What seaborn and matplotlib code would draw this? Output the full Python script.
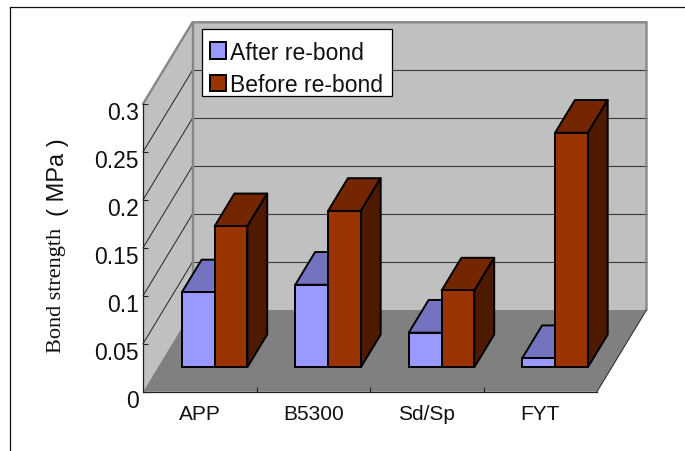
import matplotlib
matplotlib.use("Agg")
import matplotlib.pyplot as plt
import pandas as pd
import seaborn as sns
from matplotlib.lines import Line2D
from matplotlib.patches import Patch, Polygon, Rectangle
from matplotlib.transforms import ScaledTranslation

# Bond strength (MPa) per material
categories = ["APP", "B5300", "Sd/Sp", "FYT"]
after_rebond = [0.078, 0.086, 0.036, 0.0095]
before_rebond = [0.147, 0.163, 0.080, 0.2445]
series_names = ["After re-bond", "Before re-bond"]
y_ticks = [0, 0.05, 0.1, 0.15, 0.2, 0.25, 0.3]
y_tick_labels = ["0", "0.05", "0.1", "0.15", "0.2", "0.25", "0.3"]

# Face colours: front, top, side
BLUE = ("#9999FF", "#7373BF", "#4D4D80")
BROWN = ("#993300", "#732600", "#4D1A00")
WALL, FLOOR, RIM = "#C0C0C0", "#808080", "#868686"
EDGE_W = 1.4

W, H = 685, 452
sns.set_theme(style="white", rc={"font.family": ["Liberation Sans"]})
fig = plt.figure(figsize=(W / 100, H / 100), dpi=100, facecolor="white")


def px_axes(left, right, bottom, top, **kw):
    return fig.add_axes([left / W, 1 - bottom / H, (right - left) / W, (bottom - top) / H], **kw)


# Oblique projection: full depth of the box, in screen pixels
FRONT_L, FRONT_R, FRONT_B, FRONT_T = 143, 597, 392.7, 105
DEPTH_X, DEPTH_Y = 49.5, 81.7
BAR_DEPTH_START, BAR_DEPTH = 0.3, 0.4

ax = px_axes(FRONT_L, FRONT_R, FRONT_B, FRONT_T, zorder=1)
ax.set_xlim(-0.5, 3.5)
ax.set_ylim(0, 0.3)
ax.patch.set_alpha(0)
dx = DEPTH_X / (FRONT_R - FRONT_L) * 4
dy = DEPTH_Y / (FRONT_B - FRONT_T) * 0.3


def project(x, v, d):
    return (x + d * dx, v + d * dy)


x0, x1, top = -0.5, 3.5, 0.3
# Box walls and floor
ax.add_patch(Polygon([project(x0, 0, 0), project(x0, top, 0), project(x0, top, 1), project(x0, 0, 1)],
                     fc=WALL, ec="none", zorder=0.1, clip_on=False))
ax.add_patch(Polygon([project(x0, 0, 1), project(x0, top, 1), project(x1, top, 1), project(x1, 0, 1)],
                     fc=WALL, ec="none", zorder=0.1, clip_on=False))
ax.add_patch(Polygon([project(x0, 0, 0), project(x1, 0, 0), project(x1, 0, 1), project(x0, 0, 1)],
                     fc=FLOOR, ec="none", zorder=0.2, clip_on=False))

# Gridlines across both walls
for v in y_ticks[1:-1]:
    p = [project(x0, v, 1), project(x1, v, 1)]
    ax.plot(*zip(*p), color="#3A3A3A", lw=0.8, zorder=0.3, clip_on=False)
    p = [project(x0, v, 0), project(x0, v, 1)]
    ax.plot(*zip(*p), color="#222222", lw=0.7, zorder=0.3, clip_on=False)

# Wall rim
rim = [project(x0, top, 0), project(x0, top, 1), project(x1, top, 1), project(x1, 0, 1)]
ax.plot(*zip(*rim), color=RIM, lw=1.7, zorder=0.4, clip_on=False, solid_joinstyle="miter")
corner = [project(x0, top, 1), project(x0, 0, 1)]
ax.plot(*zip(*corner), color=RIM, lw=1.7, zorder=0.4, clip_on=False)
edge = [project(x1, 0, 0), project(x1, 0, 1)]
ax.plot(*zip(*edge), color="#222222", lw=0.7, zorder=0.4, clip_on=False)

# Front axes: spines, inward ticks and labels
for side in ("top", "right"):
    ax.spines[side].set_visible(False)
for side in ("left", "bottom"):
    ax.spines[side].set_color("#222222")
    ax.spines[side].set_linewidth(0.9)
ax.set_yticks(y_ticks, y_tick_labels, fontsize=16.5, color="#111111")
ax.set_xticks([0, 1, 2, 3], categories, fontsize=15, color="#111111")
ax.set_xticks([0.5, 1.5, 2.5], minor=True)
ax.tick_params(axis="y", direction="in", length=3.5, width=0.8, left=True, color="#222222", pad=3)
ax.tick_params(axis="x", which="major", bottom=False, pad=3)
ax.tick_params(axis="x", which="minor", direction="in", bottom=True, length=3.5, width=0.8, color="#222222")

# Value labels sit a little below their ticks
label_drop = ScaledTranslation(0, -6 / 100, fig.dpi_scale_trans)
for label in ax.get_yticklabels():
    label.set_transform(label.get_transform() + label_drop)

# Bars live in the plane set back from the front of the box
shift_x = BAR_DEPTH_START * DEPTH_X
shift_y = BAR_DEPTH_START * DEPTH_Y
ax_bars = px_axes(FRONT_L + shift_x, FRONT_R + shift_x, FRONT_B - shift_y, FRONT_T - shift_y, zorder=2)
table = pd.DataFrame({
    "category": categories * 2,
    "strength": after_rebond + before_rebond,
    "series": [series_names[0]] * 4 + [series_names[1]] * 4,
})
sns.barplot(data=table, x="category", y="strength", hue="series", hue_order=series_names,
            palette={series_names[0]: BLUE[0], series_names[1]: BROWN[0]},
            width=0.578, gap=0, saturation=1, edgecolor="black", linewidth=EDGE_W,
            legend=False, ax=ax_bars)
ax_bars.set_xlim(-0.5, 3.5)
ax_bars.set_ylim(0, 0.3)
ax_bars.axis("off")
ax_bars.patch.set_alpha(0)

# Top and side faces for every bar
for container, shades in zip(ax_bars.containers, (BLUE, BROWN)):
    for bar in container:
        a, b, v = bar.get_x(), bar.get_x() + bar.get_width(), bar.get_height()
        top_face = [project(a, v, 0), project(b, v, 0), project(b, v, BAR_DEPTH), project(a, v, BAR_DEPTH)]
        side_face = [project(b, 0, 0), project(b, v, 0), project(b, v, BAR_DEPTH), project(b, 0, BAR_DEPTH)]
        for pts, colour in ((top_face, shades[1]), (side_face, shades[2])):
            ax_bars.add_patch(Polygon(pts, fc=colour, ec="black", lw=EDGE_W, zorder=0.9,
                                      clip_on=False, joinstyle="round"))
        bar.set_zorder(1)
        bar.set_clip_on(False)

# Legend box over the back wall, with its frame fixed in place
ax_bars.add_artist(Rectangle((202 / W, 1 - 96.5 / H), 190 / W, 66.5 / H, transform=fig.transFigure,
                             fc="white", ec="black", lw=0.9, zorder=4, clip_on=False))
handles = [Patch(fc=BLUE[0], ec="black", lw=EDGE_W), Patch(fc=BROWN[0], ec="black", lw=EDGE_W)]
leg = ax_bars.legend(handles, series_names, loc="upper left",
                     bbox_to_anchor=(209.5 / W, 1 - 41.5 / H),
                     bbox_transform=fig.transFigure, borderaxespad=0, fontsize=16.5,
                     frameon=False, handlelength=0.7, handleheight=0.7, handletextpad=0.2,
                     borderpad=0, labelspacing=0.42, labelcolor="#111111")
leg.set_zorder(5)

# Axis title: serif wording, sans unit
fig.text(56 / W, 1 - 353 / H, "Bond strength", rotation=90, ha="center", va="bottom",
         family="Liberation Serif", fontsize=16, color="#111111")
fig.text(58 / W, 1 - 138 / H, "( MPa )", rotation=90, ha="center", va="top",
         fontsize=17, color="#111111")

# Outer frame: top and left edges only
fig.add_artist(Line2D([10 / W, 10 / W], [0, 1 - 7.5 / H], color="#111111", lw=0.9))
fig.add_artist(Line2D([10 / W, 1], [1 - 7.5 / H, 1 - 7.5 / H], color="#111111", lw=0.9))

fig.savefig("out.png", dpi=100, facecolor="white")
